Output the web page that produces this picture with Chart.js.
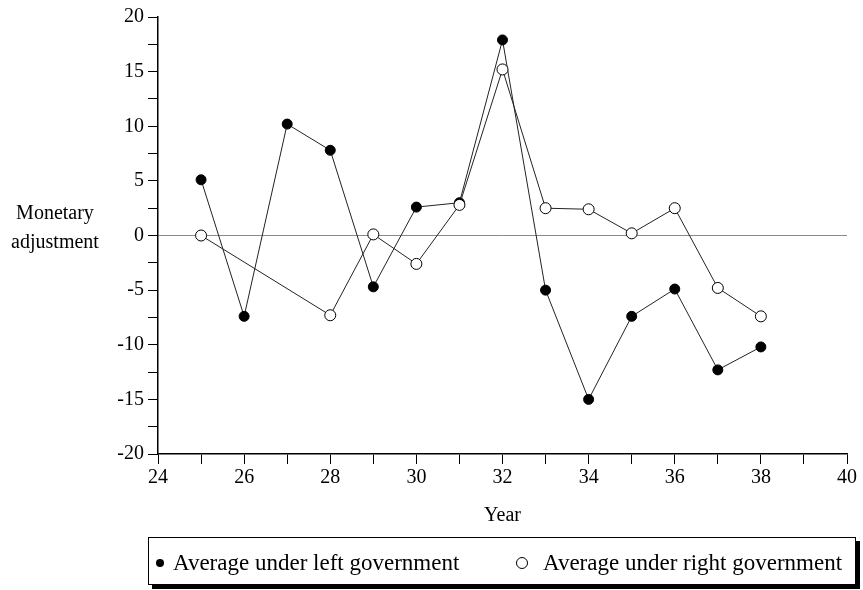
<!DOCTYPE html>
<html>
<head>
<meta charset="utf-8">
<script src="https://cdn.jsdelivr.net/npm/chart.js@4"></script>
<style>
    body { margin: 0; background: #fff; }
    #wrap { position: relative; width: 863px; height: 590px; font-family: "Liberation Serif", serif; }
    #ytitle { position: absolute; left: 0; top: 198px; width: 110px; text-align: center; font-size: 20px; line-height: 29px; color: #000; }
    #legend { position: absolute; left: 148px; top: 537px; width: 706px; height: 46px; border: 1px solid #000;
              box-shadow: 4px 4px 0 #000; background: #fff; font-size: 23px; line-height: 26px; color: #000; }
    .item { position: absolute; top: 12px; white-space: nowrap; }
    .mark { display: inline-block; border-radius: 50%; vertical-align: middle; position: relative; top: -2px; }
</style>
</head>
<body>
<div id="wrap">
    <canvas id="myChart"></canvas>
    <div id="ytitle">Monetary<br>adjustment</div>
    <div id="legend"></div>
</div>
<script>
const leftYears = [25, 26, 27, 28, 29, 30, 31, 32, 33, 34, 35, 36, 37, 38];
const leftValues = [5.1, -7.4, 10.2, 7.8, -4.7, 2.6, 3.0, 17.9, -5.0, -15.0, -7.4, -4.9, -12.3, -10.2];
const rightYears = [25, 28, 29, 30, 31, 32, 33, 34, 35, 36, 37, 38];
const rightValues = [0.0, -7.3, 0.1, -2.6, 2.8, 15.2, 2.5, 2.4, 0.2, 2.5, -4.8, -7.4];
const seriesLabels = ['Average under left government', 'Average under right government'];

const yTicks = [-20, -15, -10, -5, 0, 5, 10, 15, 20];
const xTicks = [24, 26, 28, 30, 32, 34, 36, 38, 40];

function toPoints(xs, ys) {
    return xs.map((x, i) => ({ x: x, y: ys[i] }));
}

const font = { family: 'Liberation Serif', size: 20 };

const ctx = document.getElementById('myChart').getContext('2d');
window.myChart = new Chart(ctx, {
    type: 'line',
    data: {
        datasets: [{
            label: seriesLabels[1],
            data: toPoints(rightYears, rightValues),
            borderColor: '#222',
            borderWidth: 1,
            pointRadius: 5.5,
            pointBackgroundColor: '#fff',
            pointBorderColor: '#000',
            pointBorderWidth: 1,
            order: 0
        }, {
            label: seriesLabels[0],
            data: toPoints(leftYears, leftValues),
            borderColor: '#222',
            borderWidth: 1,
            pointRadius: 5,
            pointBackgroundColor: '#000',
            pointBorderColor: '#000',
            pointBorderWidth: 1,
            order: 1
        }]
    },
    options: {
        responsive: true,
        maintainAspectRatio: false,
        animation: false,
        layout: { padding: { left: 0, top: 17, right: 16, bottom: 56 } },
        plugins: { legend: { display: false }, tooltip: { enabled: false } },
        scales: {
            x: {
                type: 'linear',
                min: 24,
                max: 40,
                afterFit: (scale) => { scale.height = 80; },
                ticks: {
                    stepSize: 1,
                    autoSkip: false,
                    maxRotation: 0,
                    padding: 2,
                    color: '#000',
                    font: font,
                    callback: (v) => xTicks.includes(v) ? String(v) : ''
                },
                grid: { drawOnChartArea: false, tickLength: 10, tickColor: '#000' },
                border: { display: true, color: '#000', width: 1.5 },
                title: { display: true, text: 'Year', color: '#000', font: { family: 'Liberation Serif', size: 20 }, padding: { top: 0, bottom: 6 } }
            },
            y: {
                min: -20,
                max: 20,
                afterFit: (scale) => { scale.width = 158; },
                ticks: {
                    stepSize: 2.5,
                    autoSkip: false,
                    padding: 4,
                    color: '#000',
                    font: font,
                    callback: (v) => yTicks.includes(v) ? String(v) : ''
                },
                grid: {
                    color: (c) => c.tick && c.tick.value === 0 ? '#8a8a8a' : 'rgba(0,0,0,0)',
                    tickLength: 10,
                    tickColor: '#000'
                },
                border: { display: true, color: '#000', width: 1.5 }
            }
        }
    }
});

// legend built from the series labels
const legend = document.getElementById('legend');
legend.innerHTML =
    '<span class="item" style="left:7px"><span class="mark" style="width:8px;height:8px;background:#000;margin-right:9px"></span>' + seriesLabels[0] + '</span>' +
    '<span class="item" style="left:367px"><span class="mark" style="width:10px;height:10px;border:1px solid #000;margin-right:15px"></span>' + seriesLabels[1] + '</span>';
</script>
</body>
</html>
